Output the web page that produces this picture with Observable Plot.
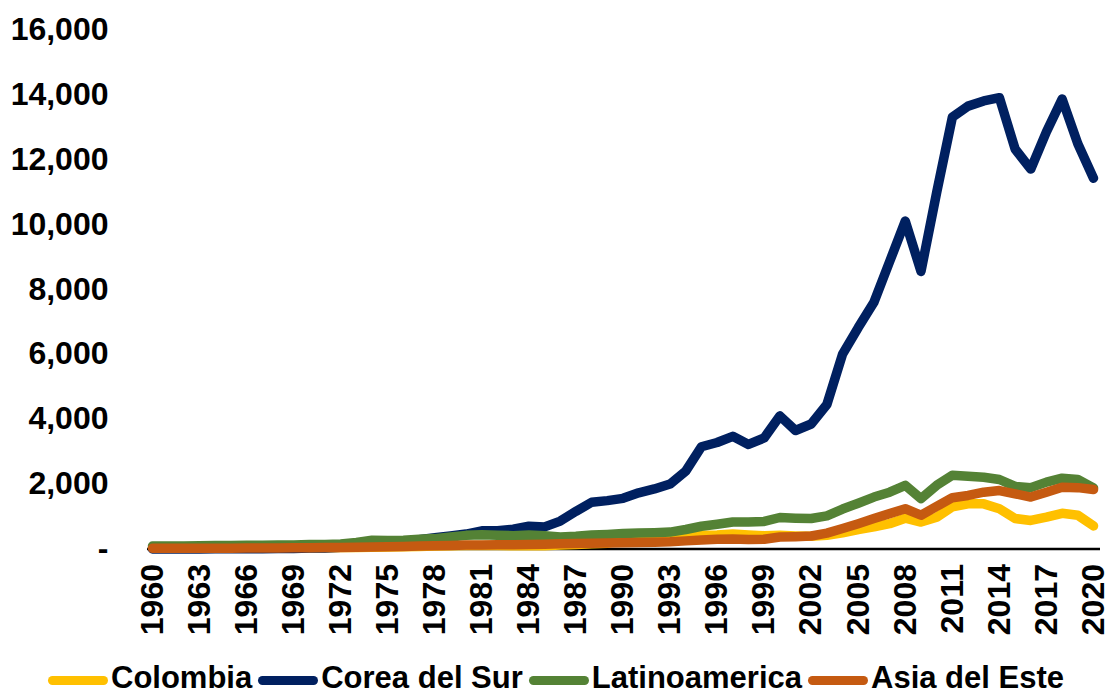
<!DOCTYPE html>
<html>
<head>
<meta charset="utf-8">
<script src="https://cdn.jsdelivr.net/npm/d3@7"></script>
<script src="https://cdn.jsdelivr.net/npm/@observablehq/plot@0.6"></script>
<style>
  html, body { margin: 0; padding: 0; background: #fff; }
  body { width: 1112px; height: 696px; overflow: hidden; font-family: "Liberation Sans", Arial, sans-serif; }
  #legend { display: flex; justify-content: center; align-items: center; margin-top: 14px; height: 28px; line-height: 28px;
            font: bold 31px/28px "Liberation Sans", Arial, sans-serif; color: #000; }
  .item { display: flex; align-items: center; margin: 0 3px; height: 28px; }
  .sw { width: 60px; height: 9px; border-radius: 5px; margin-right: 3px; margin-top: 5px; }
</style>
</head>
<body>
<div id="chart"></div>
<div id="legend"></div>
<script>
const years = d3.range(1960, 2021);
const yearTicks = [1960,1963,1966,1969,1972,1975,1978,1981,1984,1987,1990,1993,1996,1999,2002,2005,2008,2011,2014,2017,2020];
const yTicks = [0,2000,4000,6000,8000,10000,12000,14000,16000];
const seriesNames = ["Colombia","Corea del Sur","Latinoamerica","Asia del Este"];
const colors = ["#FFC000","#002060","#548235","#C55A11"];

const colombia = [30,30,30,32,33,35,35,36,38,40,40,42,45,50,55,60,70,80,90,100,110,110,105,100,100,100,120,140,160,180,270,300,320,360,380,420,430,460,430,410,420,400,390,420,500,600,680,780,950,830,980,1300,1390,1390,1240,940,880,980,1100,1040,710];
const corea = [1,2,2,3,4,6,9,11,15,19,27,34,51,95,130,145,220,290,350,400,460,560,560,610,700,680,860,1160,1440,1490,1560,1730,1850,2000,2400,3150,3280,3470,3220,3420,4100,3650,3850,4450,6000,6820,7600,8850,10100,8550,10980,13300,13640,13800,13900,12320,11700,12850,13860,12480,11420];
const latam = [90,90,95,100,105,110,115,115,120,125,135,140,155,200,270,260,270,300,320,370,420,440,420,410,430,410,370,390,430,450,480,490,500,520,600,700,760,830,830,850,970,950,940,1020,1230,1410,1600,1750,1960,1550,1960,2270,2240,2210,2140,1930,1890,2060,2180,2140,1880];
const asia = [20,20,21,22,24,26,28,30,33,36,40,44,48,55,62,70,80,90,100,110,120,125,128,132,140,150,160,170,175,182,190,200,210,220,250,280,300,310,290,300,370,380,400,490,630,780,940,1090,1240,1040,1310,1580,1650,1750,1800,1700,1600,1750,1900,1890,1830];

const seriesValues = [colombia, corea, latam, asia];
const rows = seriesNames.flatMap((name, i) => years.map((y, j) => ({year: y, value: seriesValues[i][j], series: name})));

const H = 650;
const chart = Plot.plot({
  width: 1112,
  height: H,
  marginLeft: 152,
  marginRight: 19,
  marginTop: 29,
  marginBottom: H - 548.5,
  style: { fontFamily: '"Liberation Sans", Arial, sans-serif', fontSize: "32px", fontWeight: "bold", color: "#000", background: "#fff" },
  x: { domain: [1960, 2020] },
  y: { domain: [0, 16000] },
  color: { domain: seriesNames, range: colors },
  marks: [
    Plot.axisY({ ticks: yTicks, tickSize: 0, tickPadding: 44, tickFormat: d => d === 0 ? "-" : d3.format(",")(d), label: null }),
    Plot.axisX({ ticks: yearTicks, tickSize: 0, tickPadding: 15, tickRotate: -90, tickFormat: d => String(d), label: null }),
    Plot.ruleY([0], { stroke: "#000", strokeWidth: 2.5, insetLeft: -5, insetRight: -7 }),
    Plot.line(rows, { x: "year", y: "value", z: "series", stroke: "series", strokeWidth: 9.5, strokeLinecap: "round", strokeLinejoin: "round" })
  ]
});
document.getElementById("chart").appendChild(chart);

const legend = document.getElementById("legend");
seriesNames.forEach((n, i) => {
  const it = document.createElement("div");
  it.className = "item";
  it.innerHTML = `<span class="sw" style="background:${colors[i]}"></span><span>${n}</span>`;
  legend.appendChild(it);
});
</script>
</body>
</html>
